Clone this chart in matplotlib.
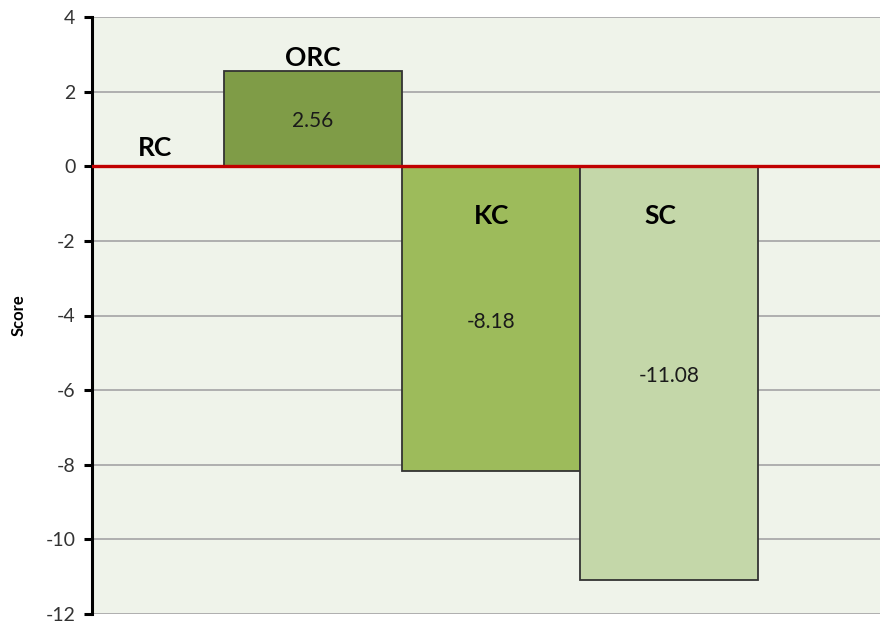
import matplotlib
matplotlib.use("Agg")
import matplotlib.pyplot as plt

categories = ["RC", "ORC", "KC", "SC"]
scores = [0.0, 2.56, -8.18, -11.08]
bar_colors = ["#9BBB59", "#7F9C47", "#9DBB5B", "#C4D7A9"]
yticks = [-12, -10, -8, -6, -4, -2, 0, 2, 4]

plt.rcParams["font.family"] = ["Lato", "DejaVu Sans"]

fig = plt.figure(figsize=(8.8, 6.28), dpi=100)
ax = fig.add_axes([92 / 880, 1 - 614 / 628, 1 - 92 / 880, (614 - 17) / 628])
ax.set_facecolor("#EFF3EA")

x = list(range(len(categories)))
ax.bar(x[1:], scores[1:], width=1.0, color=bar_colors[1:],
       edgecolor="#333333", linewidth=1.3, zorder=3)

ax.set_ylim(-12, 4)
ax.set_xlim(-0.242, 4.185)
ax.set_yticks(yticks)
ax.set_yticklabels([str(t) for t in yticks], fontsize=14)
ax.set_xticks([])

ax.yaxis.grid(True, color="#AFAFAF", linewidth=1.4, zorder=0)
ax.set_axisbelow(True)
ax.axhline(0, color="#C00000", linewidth=2.4, zorder=4)

for s in ["top", "right", "bottom"]:
    ax.spines[s].set_visible(False)
ax.spines["left"].set_linewidth(2.2)
ax.spines["left"].set_color("black")
ax.tick_params(axis="y", direction="out", length=6, width=2.2, pad=6,
               labelcolor="#333333")

ax.set_ylabel("Score", fontsize=12, fontweight="bold")
ax.yaxis.set_label_coords(-0.083, 0.5)

# category names: above positive bars, inside the top of negative bars
label_x = [0.11, 1.0, 2.0, 2.95]
for xi, cat, val in zip(label_x, categories, scores):
    ly = val + (0.5 if val == 0 else 0.35) if val >= 0 else -1.33
    ax.text(xi, ly, cat, ha="center", va="center", fontsize=19,
            fontweight="bold", color="black", zorder=5)

# value labels at the middle of each bar
for xi, val in zip(x[1:], scores[1:]):
    ax.text(xi, val / 2 - 0.08, f"{val:.2f}", ha="center", va="center",
            fontsize=15, color="#1a1a1a", zorder=5)

fig.savefig("out.png", dpi=100, facecolor="white")
